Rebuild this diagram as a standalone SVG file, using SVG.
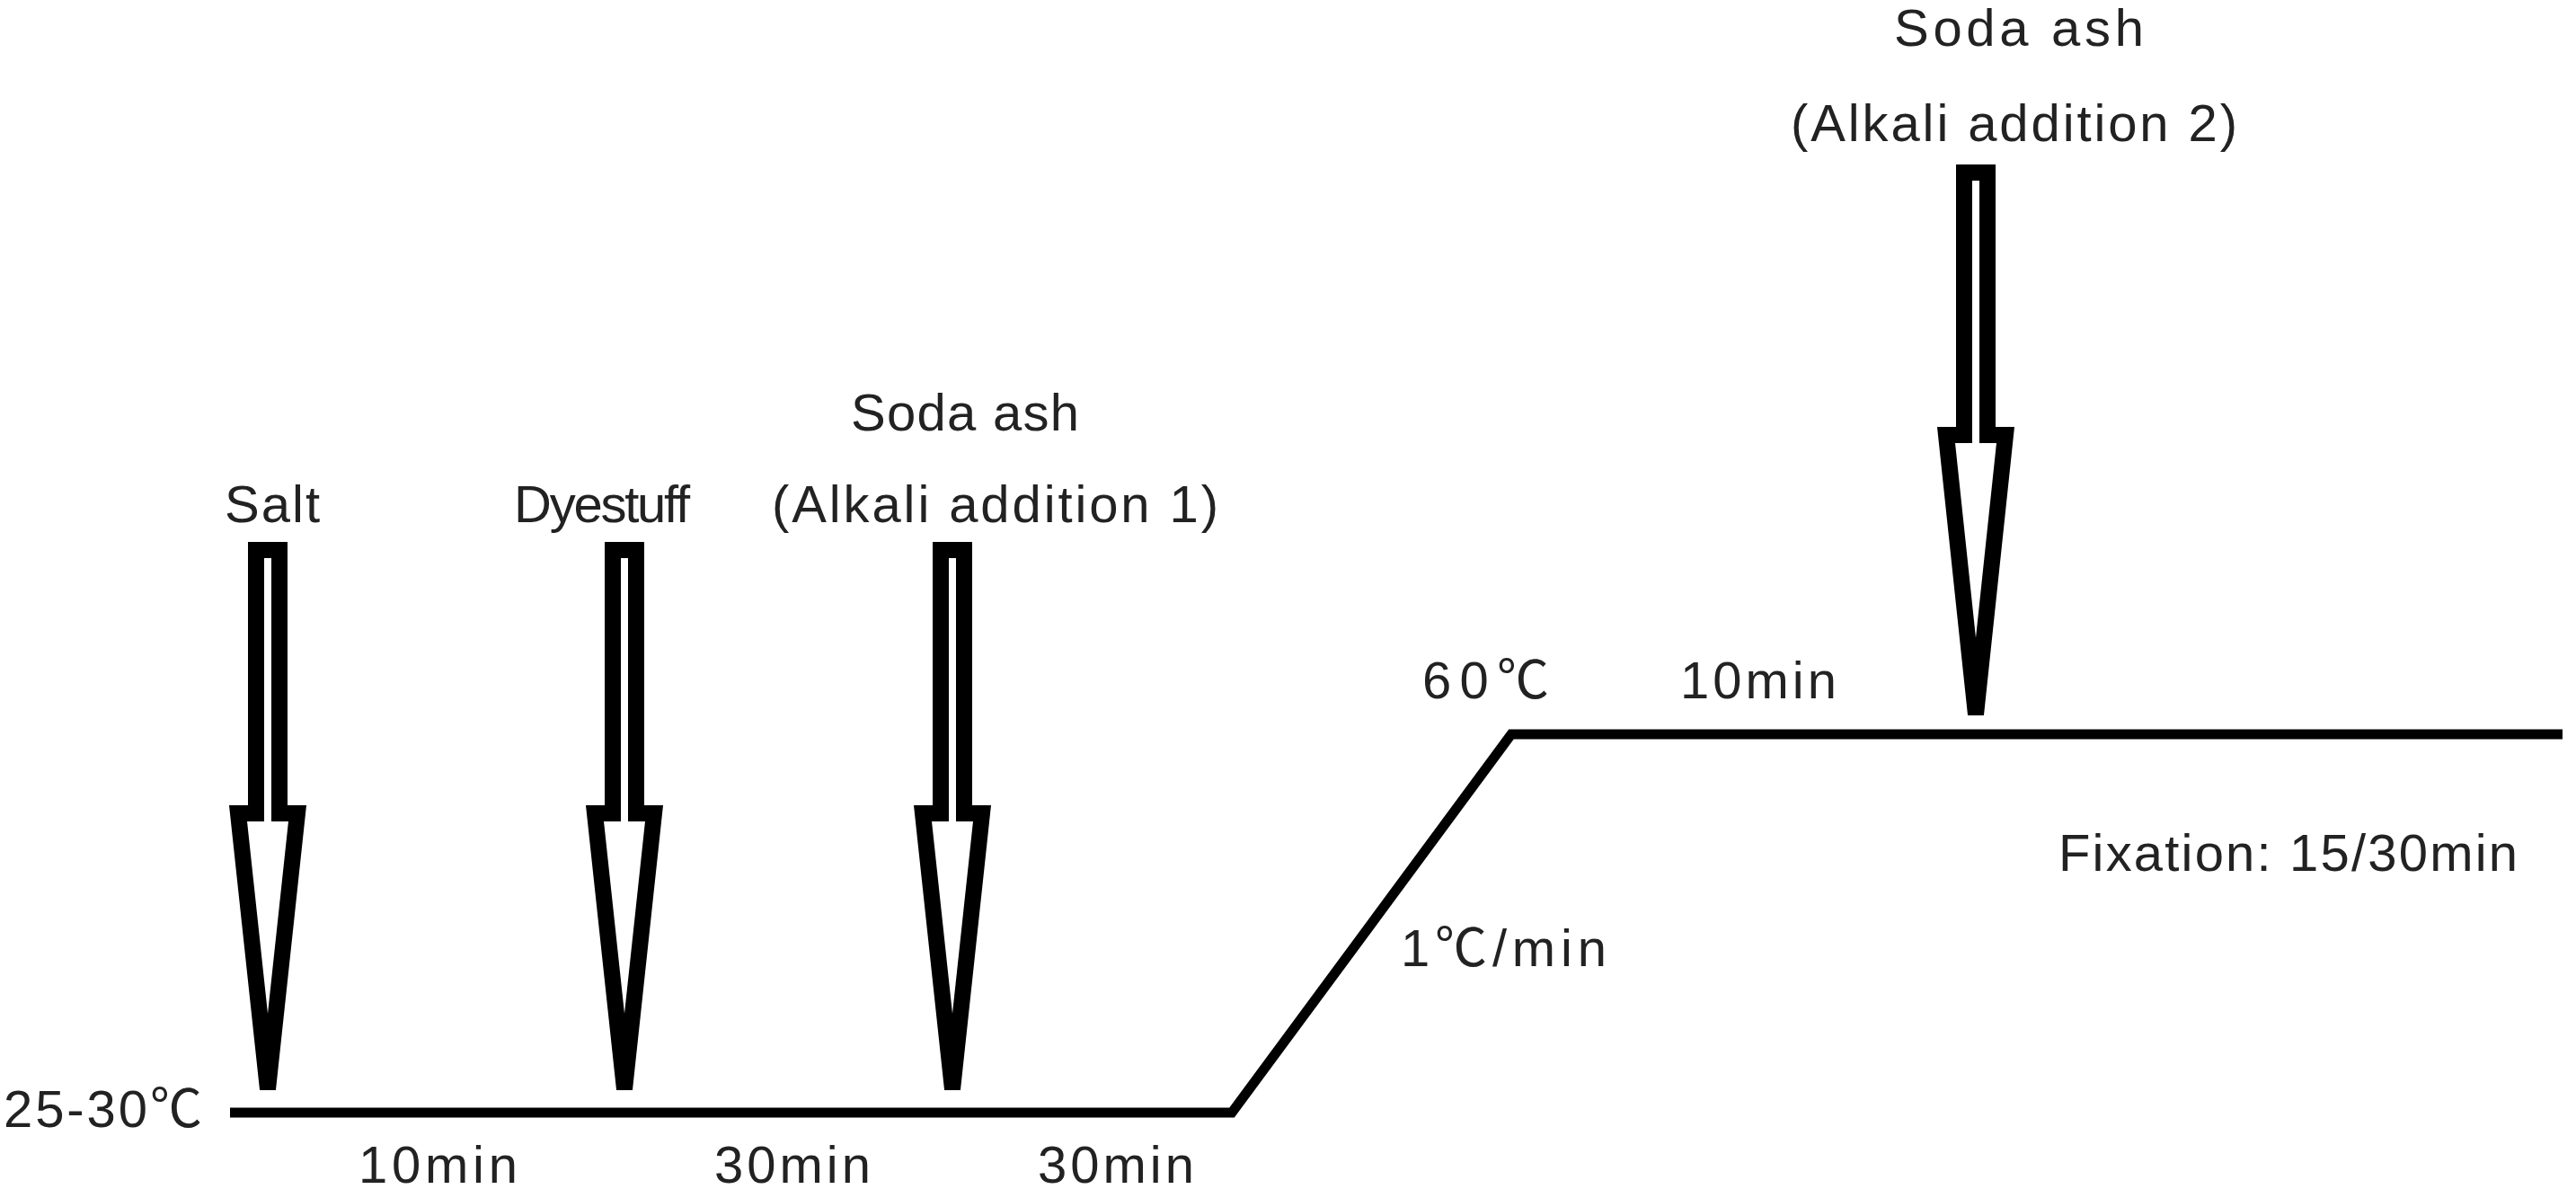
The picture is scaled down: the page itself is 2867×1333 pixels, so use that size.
<svg xmlns="http://www.w3.org/2000/svg" width="2867" height="1333" viewBox="0 0 2867 1333">
<style>
text{font-family:"Liberation Sans","Noto Sans CJK SC",sans-serif;font-size:58px;fill:#222}
.arr{fill:#fff;stroke:#000;stroke-width:18;stroke-linejoin:miter}
.ln{fill:none;stroke:#000;stroke-width:11}
</style>
<rect width="2867" height="1333" fill="#fff"/>
<g id="connectors">
<polyline class="ln" points="256,1238 1371,1238 1682,817 2852,817"/>
</g>
<g id="salt"><path class="arr" d="M285,612 H311 V905 H331 L298,1212 L265,905 H285 Z"/><text x="250" y="581" textLength="106">Salt</text></g>
<g id="dyestuff"><path class="arr" d="M682,612 H708 V905 H728 L695,1212 L662,905 H682 Z"/><text x="572" y="581" textLength="196">Dyestuff</text></g>
<g id="alkali1"><path class="arr" d="M1047,612 H1073 V905 H1093 L1060,1212 L1027,905 H1047 Z"/><text x="947" y="479" textLength="254">Soda ash</text><text x="859" y="581" textLength="497">(Alkali addition 1)</text></g>
<g id="alkali2"><path class="arr" d="M2186,192 H2212 V484 H2232 L2199,795 L2166,484 H2186 Z"/><text x="2108" y="51" textLength="278">Soda ash</text><text x="1993" y="157" textLength="497">(Alkali addition 2)</text></g>
<g id="labels">
<text x="4" y="1254" textLength="221">25-30℃</text>
<text x="399" y="1316" textLength="177">10min</text>
<text x="795" y="1316" textLength="174">30min</text>
<text x="1155" y="1316" textLength="174">30min</text>
<text x="1559" y="1075" textLength="229">1℃/min</text>
<text x="1583" y="777" textLength="141">60℃</text>
<text x="1870" y="777" textLength="174">10min</text>
<text x="2291" y="969" textLength="511">Fixation: 15/30min</text>
</g>
</svg>
